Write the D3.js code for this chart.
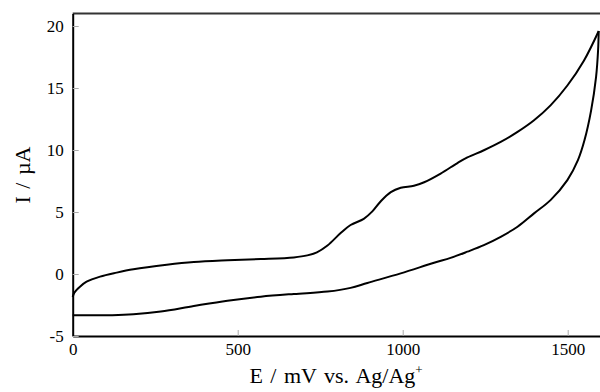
<!DOCTYPE html>
<meta charset="utf-8">
<style>
body { margin: 0; background: #fff; }
svg { display: block; }
.axis .domain {
  stroke: #000;
  stroke-width: 2;
}
.axis .tick line {
  stroke: #aaa;
  stroke-width: 1;
}
.axis text {
  font-family: "Liberation Serif", "Times New Roman", serif;
  font-size: 17px;
  fill: #000;
}
.title {
  font-family: "Liberation Serif", "Times New Roman", serif;
  font-size: 22px;
  word-spacing: 2px;
  fill: #000;
}
.cv {
  fill: none;
  stroke: #000;
  stroke-width: 2;
}
</style>
<svg width="600" height="392" id="cv-plot"></svg>
<script src="https://d3js.org/d3.v7.min.js"></script>
<script>
// forward (anodic) sweep, 0 -> 1594 mV
var forwardE = [0, 5, 22, 42, 83, 133, 184, 285, 367, 469, 570, 670, 711, 740, 772, 812, 842, 882, 908, 933, 964, 994, 1034, 1065, 1115, 1166, 1196, 1246, 1297, 1348, 1398, 1448, 1499, 1549, 1594];
var forwardI = [-1.85, -1.5, -1.02, -0.62, -0.21, 0.11, 0.38, 0.74, 0.96, 1.10, 1.2, 1.34, 1.5, 1.75, 2.3, 3.3, 3.95, 4.45, 5.05, 5.85, 6.6, 6.95, 7.12, 7.4, 8.1, 8.95, 9.4, 9.98, 10.65, 11.46, 12.4, 13.6, 15.2, 17.2, 19.6];

// reverse (cathodic) sweep, 1594 -> 0 mV
var reverseE = [1594, 1592, 1586, 1571, 1551, 1531, 1499, 1448, 1398, 1348, 1297, 1246, 1196, 1145, 1095, 994, 893, 842, 772, 670, 570, 469, 367, 267, 184, 120, 0];
var reverseI = [19.6, 18.0, 15.9, 13.2, 10.8, 9.18, 7.57, 5.96, 4.89, 3.81, 3.0, 2.33, 1.8, 1.3, 0.91, 0.05, -0.72, -1.12, -1.42, -1.61, -1.83, -2.15, -2.58, -3.03, -3.25, -3.32, -3.32];

var xTicks = [0, 500, 1000, 1500];
var yTicks = [-5, 0, 5, 10, 15, 20];

var svg = d3.select("#cv-plot"),
    mLeft = 72.7, mRight = 600.7, mTop = 13.6, mBottom = 336;

var x = d3.scaleLinear().domain([0, 1600]).range([mLeft, mRight]);
var y = d3.scaleLinear().domain([-5, 21]).range([mBottom, mTop]);

// top frame line
svg.append("line")
    .attr("x1", mLeft).attr("x2", 600)
    .attr("y1", y(21)).attr("y2", y(21))
    .attr("stroke", "#333")
    .attr("stroke-width", 2);

svg.append("g")
    .attr("class", "axis")
    .attr("transform", `translate(0,${mBottom})`)
    .call(d3.axisBottom(x).tickValues(xTicks).tickFormat(d => String(d))
        .tickSizeInner(-6).tickSizeOuter(0).tickPadding(7));

svg.append("g")
    .attr("class", "axis")
    .attr("transform", `translate(${mLeft},0)`)
    .call(d3.axisLeft(y).tickValues(yTicks).tickFormat(d => String(d))
        .tickSizeInner(-6).tickSizeOuter(0).tickPadding(9));

var line = d3.line()
    .x(d => x(d[0]))
    .y(d => y(d[1]))
    .curve(d3.curveCatmullRom.alpha(0.5));

svg.append("path")
    .attr("class", "cv")
    .attr("d", line(d3.zip(forwardE, forwardI)));

svg.append("path")
    .attr("class", "cv")
    .attr("d", line(d3.zip(reverseE, reverseI)));

// axis titles
var xt = svg.append("text")
    .attr("class", "title")
    .attr("x", 336)
    .attr("y", 383)
    .attr("text-anchor", "middle");
xt.append("tspan").text("E / mV vs. Ag/Ag");
xt.append("tspan").attr("font-size", 13).attr("dy", -9).text("+");

svg.append("text")
    .attr("class", "title")
    .attr("transform", "translate(30,175) rotate(-90)")
    .attr("text-anchor", "middle")
    .text("I / µA");
</script>
